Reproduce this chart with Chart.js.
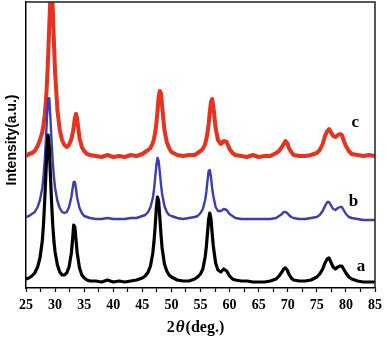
<!DOCTYPE html>
<html>
<head>
<meta charset="utf-8">
<script src="https://cdn.jsdelivr.net/npm/chart.js@4.4.1/dist/chart.umd.min.js"></script>
<style>
  body { margin: 0; background: #fff; }
  canvas { display: block; }
</style>
</head>
<body>
<canvas id="xrd" width="387" height="339"></canvas>
<script>
// 2theta grid (deg.), shared by the three patterns
let twoTheta = [
  25, 25.5, 26, 26.5, 27, 27.4, 27.8, 28.0, 28.2, 28.4,
  28.6, 28.8, 29.0, 29.2, 29.4, 29.6, 29.8, 30.0, 30.4, 30.8,
  31.2, 31.6, 32.0, 32.4, 32.8, 33.0, 33.2, 33.4, 33.6, 33.8,
  34.2, 34.6, 35.0, 35.5, 36, 37, 38, 39, 40, 41,
  42, 43, 44, 45, 45.5, 46.0, 46.4, 46.8, 47.0, 47.2,
  47.4, 47.6, 47.8, 48.0, 48.2, 48.4, 48.8, 49.2, 49.6, 50,
  51, 52, 53, 54, 54.5, 55, 55.4, 55.8, 56.0, 56.2,
  56.4, 56.6, 56.8, 57.0, 57.2, 57.6, 58.0, 58.5, 59.0, 59.5,
  60.0, 60.5, 61, 62, 63, 64, 65, 66, 67, 68,
  68.5, 69, 69.3, 69.6, 69.9, 70.2, 70.6, 71, 72, 73,
  74, 75, 75.5, 76, 76.4, 76.8, 77.1, 77.4, 77.8, 78.2,
  78.6, 79, 79.3, 79.6, 80, 80.5, 81, 82, 83, 84,
  85
];

// intensities (a.u.) of each sample
let intensidadA = [
  6, 7, 9, 12, 18, 27, 44, 60, 82, 108,
  135, 150, 138, 110, 82, 60, 44, 33, 20, 13,
  10, 10, 12, 18, 32, 45, 60, 58, 45, 32,
  17, 10, 7, 5, 4, 4, 3, 5, 3, 4,
  3, 4, 5, 7, 9, 13, 19, 32, 43, 58,
  76, 88, 84, 68, 51, 37, 21, 14, 10, 8,
  5, 4, 4, 6, 8, 11, 16, 28, 38, 52,
  66, 72, 66, 52, 39, 22, 15, 13, 16, 14,
  9, 6, 5, 4, 4, 3, 3, 3, 4, 6,
  9, 13, 16, 17, 15, 11, 7, 5, 4, 4,
  5, 8, 11, 16, 22, 26, 27, 23, 18, 16,
  18, 19, 19, 16, 12, 8, 6, 4, 3, 3,
  3
];

let intensidadB = [
  5, 6, 8, 10, 15, 22, 34, 45, 60, 80,
  104, 123, 124, 104, 80, 60, 45, 34, 21, 14,
  10, 9, 10, 15, 25, 33, 40, 40, 33, 24,
  14, 9, 6, 5, 4, 3, 3, 4, 3, 3,
  3, 4, 4, 6, 7, 10, 15, 24, 32, 44,
  56, 64, 61, 50, 38, 28, 16, 10, 7, 6,
  4, 3, 4, 5, 6, 9, 13, 22, 30, 41,
  51, 52, 45, 34, 26, 15, 11, 11, 13, 12,
  8, 6, 4, 3, 3, 3, 3, 3, 3, 4,
  6, 8, 10, 10, 9, 7, 5, 4, 3, 3,
  4, 5, 7, 11, 16, 20, 20, 17, 13, 12,
  14, 15, 15, 12, 8, 5, 4, 3, 2, 2,
  2
];

let intensidadC = [
  6, 8, 9, 11, 16, 22, 30, 37, 46, 59,
  78, 104, 137, 166, 174, 153, 120, 90, 52, 32,
  22, 17, 15, 17, 23, 28, 35, 44, 48, 43,
  24, 15, 11, 8, 7, 6, 5, 7, 5, 6,
  5, 7, 6, 8, 10, 12, 14, 19, 23, 29,
  38, 50, 65, 71, 69, 56, 32, 20, 14, 10,
  7, 6, 7, 7, 9, 11, 13, 18, 23, 29,
  38, 50, 60, 63, 56, 34, 22, 18, 21, 20,
  13, 9, 7, 6, 5, 7, 5, 6, 6, 9,
  11, 15, 18, 21, 19, 14, 10, 7, 6, 6,
  7, 9, 12, 18, 26, 31, 33, 30, 26, 25,
  27, 28, 27, 22, 16, 11, 8, 7, 6, 7,
  6
];

// vertical shift of each pattern so they don't overlap
let desplazamiento = [3, 66, 126];
let etiquetas = ["a", "b", "c"];
let colores = ["#000000", "#3c3cb4", "#e6321e"];
let grosores = [3.2, 2.4, 4];

// where the a/b/c tags sit, in data units
let etiquetaX = [82.6, 81.3, 81.6];
let etiquetaY = [21, 86, 165];

let chartXrd;

function armarSerie(valores, offset) {
  return twoTheta.map((t, i) => ({ x: t, y: valores[i] + offset }));
}

// frame, axis titles and a/b/c tags
const extrasXrd = {
  id: "extrasXrd",
  afterDraw(chart) {
    const ctx = chart.ctx;
    const area = chart.chartArea;
    const sx = chart.scales.x;
    const sy = chart.scales.y;
    ctx.save();

    ctx.strokeStyle = "#222";
    ctx.lineWidth = 1.5;
    ctx.beginPath();
    ctx.moveTo(area.left, area.top);
    ctx.lineTo(area.right, area.top);
    ctx.lineTo(area.right, area.bottom);
    ctx.stroke();

    ctx.fillStyle = "#000";
    ctx.textBaseline = "middle";
    ctx.textAlign = "center";
    ctx.font = "bold 17px 'Liberation Serif'";
    etiquetas.forEach((e, i) => {
      ctx.fillText(e, sx.getPixelForValue(etiquetaX[i]), sy.getPixelForValue(etiquetaY[i]));
    });

    // x title: 2θ(deg.) with italic theta
    ctx.textAlign = "left";
    let partes = [
      ["2", "bold 16px 'Liberation Serif'"],
      ["\u03b8", "bold italic 17px 'Liberation Serif'"],
      ["(deg.)", "bold 16px 'Liberation Serif'"],
    ];
    let ancho = 0;
    partes.forEach((p) => { ctx.font = p[1]; ancho += ctx.measureText(p[0]).width + 1; });
    let x = 196 - ancho / 2;
    partes.forEach((p) => {
      ctx.font = p[1];
      ctx.fillText(p[0], x, 328);
      x += ctx.measureText(p[0]).width + 1;
    });

    // y title
    ctx.translate(12, 140);
    ctx.rotate(-Math.PI / 2);
    ctx.textAlign = "center";
    ctx.font = "bold 14px 'Liberation Sans'";
    ctx.fillText("Intensity(a.u.)", 0, 0);
    ctx.restore();
  },
};

function crearGrafico(idGrafico) {
  if (chartXrd) {
    chartXrd.destroy();
  }
  let series = [intensidadA, intensidadB, intensidadC];
  let ctx = document.getElementById(idGrafico).getContext("2d");
  chartXrd = new Chart(ctx, {
    type: "line",
    data: {
      datasets: series.map((v, i) => ({
        label: etiquetas[i],
        data: armarSerie(v, desplazamiento[i]),
        borderColor: colores[i],
        borderWidth: grosores[i],
        borderJoinStyle: "round",
        pointRadius: 0,
        tension: 0,
        fill: false,
      })),
    },
    options: {
      responsive: false,
      animation: false,
      devicePixelRatio: 1,
      layout: { padding: { top: 2, right: 8, left: 0, bottom: 0 } },
      plugins: { legend: { display: false }, tooltip: { enabled: false } },
      scales: {
        x: {
          type: "linear",
          min: 25,
          max: 85,
          afterFit(scale) { scale.height = 51; },
          border: { display: true, color: "#000", width: 1.5 },
          grid: { drawOnChartArea: false, color: "#000", tickLength: 4, tickWidth: 1.2 },
          ticks: {
            stepSize: 2.5,
            autoSkip: false,
            maxRotation: 0,
            padding: 5,
            color: "#000",
            font: { family: "'Liberation Serif'", size: 14, weight: "bold" },
            callback: (valor) => (valor % 5 === 0 ? valor : ""),
          },
        },
        y: {
          min: 0,
          max: 286,
          afterFit(scale) { scale.width = 26; },
          border: { display: true, color: "#000", width: 1.5 },
          grid: { display: false },
          ticks: { display: false },
        },
      },
    },
    plugins: [extrasXrd],
  });
}

crearGrafico("xrd");
</script>
</body>
</html>
